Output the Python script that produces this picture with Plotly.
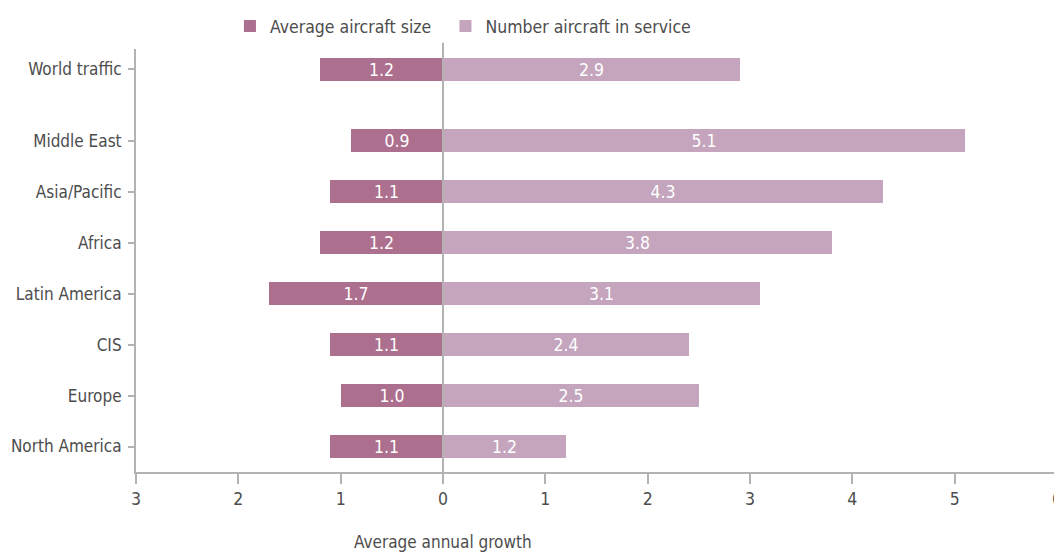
import plotly.graph_objects as go

categories = ["North America", "Europe", "CIS", "Latin America", "Africa",
              "Asia/Pacific", "Middle East", "World traffic"]
positions = [0, 1, 2, 3, 4, 5, 6, 7.4]
avg_size = [1.1, 1.0, 1.1, 1.7, 1.2, 1.1, 0.9, 1.2]
num_aircraft = [1.2, 2.5, 2.4, 3.1, 3.8, 4.3, 5.1, 2.9]
x_tickvals = [-3, -2, -1, 0, 1, 2, 3, 4, 5, 6]
x_ticktext = ["3", "2", "1", "0", "1", "2", "3", "4", "5", "6"]

FONT = "Liberation Sans Narrow, Arial Narrow, DejaVu Sans Condensed, sans-serif"
TXT = "#4d4d4d"
AX = "#b3b3b3"
FS = 17.5

fig = go.Figure()
fig.add_trace(go.Bar(
    name="Average aircraft size", orientation="h",
    y=positions, x=[-v for v in avg_size],
    text=[f"{v:.1f}" for v in avg_size], textposition="inside",
    insidetextanchor="middle", textangle=0,
    textfont=dict(color="white", size=FS, family=FONT),
    marker=dict(color="#ad6f8e", line=dict(width=0)), width=0.46,
    hoverinfo="skip", legend="legend",
))
fig.add_trace(go.Bar(
    name="Number aircraft in service", orientation="h",
    y=positions, x=num_aircraft,
    text=[f"{v:.1f}" for v in num_aircraft], textposition="inside",
    insidetextanchor="middle", textangle=0,
    textfont=dict(color="white", size=FS, family=FONT),
    marker=dict(color="#c4a5bd", line=dict(width=0)), width=0.46,
    hoverinfo="skip", legend="legend2",
))

fig.add_shape(type="line", xref="x", yref="paper", x0=0, x1=0, y0=0, y1=1.015,
              line=dict(color=AX, width=2), layer="above")

fig.add_annotation(text="Average annual growth", xref="x", yref="paper",
                   x=0, y=-0.165, yanchor="middle", xanchor="center",
                   showarrow=False, font=dict(size=17, color=TXT, family=FONT))

legend_common = dict(orientation="h", xanchor="left", y=1.054, yanchor="middle",
                     font=dict(size=FS, color=TXT, family=FONT),
                     bgcolor="rgba(0,0,0,0)")

# the page body adds an 8px margin, so the figure is 8px smaller than the window
fig.update_layout(
    width=1054, height=550,
    margin=dict(l=128, r=5, t=41, b=86, autoexpand=False),
    barmode="relative", bargap=0,
    plot_bgcolor="white", paper_bgcolor="white",
    font=dict(family=FONT, size=FS, color=TXT),
    uniformtext=dict(mode="show", minsize=FS),
    legend=dict(x=0.102, **legend_common),
    legend2=dict(x=0.336, **legend_common),
    showlegend=True,
)
fig.update_xaxes(range=[-3, 6], tickvals=x_tickvals, ticktext=x_ticktext,
                 showgrid=False, zeroline=False, showline=True, linecolor=AX, linewidth=2,
                 ticks="outside", ticklen=10, tickwidth=2, tickcolor=AX,
                 ticklabeloverflow="allow",
                 tickfont=dict(size=FS, color=TXT, family=FONT))
fig.update_yaxes(range=[-0.5, 7.8], tickvals=positions, ticktext=categories,
                 showgrid=False, zeroline=False, showline=True, linecolor=AX, linewidth=2,
                 ticks="outside", ticklen=6, tickwidth=2, tickcolor=AX,
                 ticklabelstandoff=3,
                 tickfont=dict(size=17, color=TXT, family=FONT))

fig.write_html("out.html")
